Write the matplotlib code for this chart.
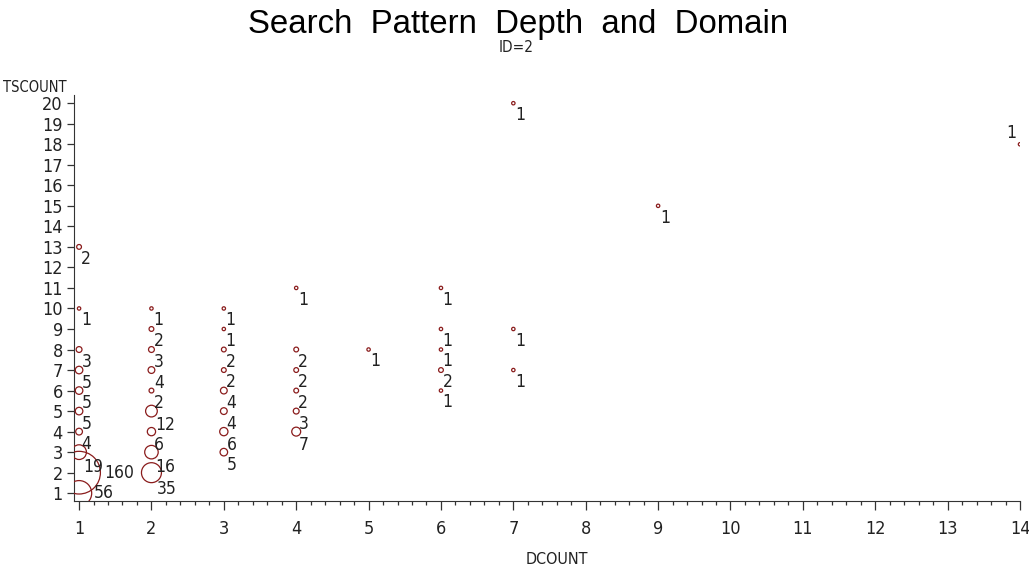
import matplotlib
matplotlib.use("Agg")
import matplotlib.pyplot as plt
from matplotlib import font_manager
from matplotlib.ticker import AutoMinorLocator
import numpy as np

# ---- data ----
dcount = [1, 1, 1, 1, 1, 1, 1, 1, 1, 1,
          2, 2, 2, 2, 2, 2, 2, 2, 2,
          3, 3, 3, 3, 3, 3, 3, 3,
          4, 4, 4, 4, 4, 4,
          5,
          6, 6, 6, 6, 6,
          7, 7, 7,
          9,
          14]
tscount = [13, 10, 8, 7, 6, 5, 4, 3, 2, 1,
           10, 9, 8, 7, 6, 5, 4, 3, 2,
           10, 9, 8, 7, 6, 5, 4, 3,
           11, 8, 7, 6, 5, 4,
           8,
           11, 9, 8, 7, 6,
           20, 9, 7,
           15,
           18]
counts = [2, 1, 3, 5, 5, 5, 4, 19, 160, 56,
          1, 2, 3, 4, 2, 12, 6, 16, 35,
          1, 1, 2, 2, 4, 4, 6, 5,
          1, 2, 2, 2, 3, 7,
          1,
          1, 1, 1, 2, 1,
          1, 1, 1,
          1,
          1]

x_ticks = list(range(1, 15))
y_ticks = list(range(1, 21))
title = "Search  Pattern  Depth  and  Domain"
subtitle = "ID=2"
xlabel = "DCOUNT"
ylabel = "TSCOUNT"

# ---- fonts ----
def has_font(name):
    try:
        font_manager.findfont(font_manager.FontProperties(family=name),
                              fallback_to_default=False)
        return True
    except Exception:
        return False

if has_font("Liberation Sans Narrow"):
    narrow = dict(family="Liberation Sans Narrow")
else:
    narrow = dict(family="DejaVu Sans", stretch="condensed")
title_font = dict(family="Liberation Sans") if has_font("Liberation Sans") else dict(family="DejaVu Sans")

W, H, DPI = 1029, 576, 100
fig = plt.figure(figsize=(W / DPI, H / DPI), dpi=DPI)
fig.patch.set_facecolor("white")

ax_left, ax_right = 74 / W, 1020 / W
ax_bottom, ax_top = 1 - 501 / H, 1 - 95 / H
ax = fig.add_axes([ax_left, ax_bottom, ax_right - ax_left, ax_top - ax_bottom])

ax.set_xlim(0.93, 14)
ax.set_ylim(0.62, 20.4)

# bubble area proportional to count
sizes = [5.9 * c for c in counts]
ax.scatter(dcount, tscount, s=sizes, facecolors="none", edgecolors="#8a1c1c",
           linewidths=0.9, zorder=3)

# labels next to bubbles
lab_fs = 12.5
for xv, yv, c in zip(dcount, tscount, counts):
    r = 1.69 * np.sqrt(c)  # radius in pixels
    if xv == max(dcount):
        ax.annotate(str(c), (xv, yv), xytext=(-4, 2), textcoords="offset pixels",
                    ha="right", va="bottom", fontsize=lab_fs, color="#222222", **narrow)
    elif r > 11:
        ax.annotate(str(c), (xv, yv), xytext=(min(1.2 * r, 26), 0),
                    textcoords="offset pixels",
                    ha="left", va="center", fontsize=lab_fs, color="#222222", **narrow)
    else:
        ax.annotate(str(c), (xv, yv), xytext=(1 + 0.45 * r, -(2 + 0.5 * r)),
                    textcoords="offset pixels",
                    ha="left", va="top", fontsize=lab_fs, color="#222222", **narrow)

# axes styling
for side in ("top", "right"):
    ax.spines[side].set_visible(False)
ax.spines["left"].set_color("#333333")
ax.spines["bottom"].set_color("#333333")

ax.set_xticks(x_ticks)
ax.set_yticks(y_ticks)
ax.xaxis.set_minor_locator(AutoMinorLocator(5))
ax.tick_params(axis="x", which="major", length=6.5, width=0.9, pad=7,
               labelsize=13, colors="#333333", direction="out")
ax.tick_params(axis="x", which="minor", length=3.2, width=0.9, direction="out",
               colors="#333333")
ax.tick_params(axis="y", which="major", length=5, width=0.9, pad=3,
               labelsize=13, colors="#333333", direction="out")
for lbl in ax.get_xticklabels() + ax.get_yticklabels():
    lbl.set(**narrow)
    lbl.set_color("#222222")

fig.text(0.503, 1 - 24 / H, title, ha="center", va="center", fontsize=23.8,
         color="black", **title_font)
fig.text(516 / W, 1 - 47 / H, subtitle, ha="center", va="center", fontsize=11,
         color="#222222", **narrow)
fig.text(3 / W, 1 - 88 / H, ylabel, ha="left", va="center", fontsize=10.5,
         color="#222222", **narrow)
fig.text(557 / W, 1 - 560 / H, xlabel, ha="center", va="center", fontsize=11.5,
         color="#222222", **narrow)

fig.savefig("out.png", dpi=DPI, facecolor="white")
